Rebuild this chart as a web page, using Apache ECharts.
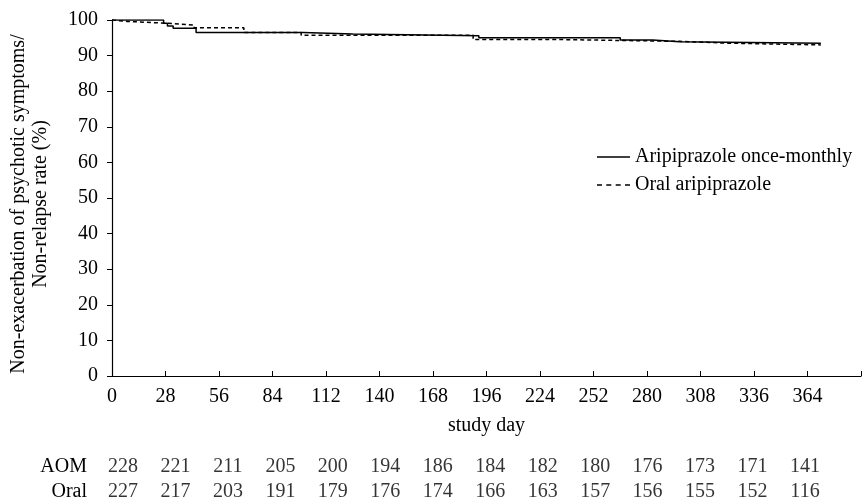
<!DOCTYPE html>
<html>
<head>
<meta charset="utf-8">
<script src="https://cdn.jsdelivr.net/npm/echarts@6/dist/echarts.min.js"></script>
<style>
html,body{margin:0;padding:0;background:#fff;}
#c{width:866px;height:504px;}
</style>
</head>
<body>
<div id="c"></div>
<script>
// Kaplan-Meier step points [study day, % non-relapse]
const aomCurve = [[0,100],[27,99.1],[29,98.3],[32,97.7],[44,96.5],[100,96.1],[126,95.6],[192,95.0],[266,94.4],[283,93.9],[297,93.5],[371,93.5]];
const oralCurve = [[0,100],[1,99.6],[8,99.1],[28,98.6],[43,97.8],[69,96.5],[99,95.7],[189,94.5],[236,94.0],[297,93.5],[322,93.0],[371,93.0]];
// Numbers at risk
const riskDays = [0,28,56,84,112,140,168,196,224,252,280,308,336,364];
const aomAtRisk = [228,221,211,205,200,194,186,184,182,180,176,173,171,141];
const oralAtRisk = [227,217,203,191,179,176,174,166,163,157,156,155,152,116];
const rowNames = ['Oral','AOM'];

const FONT = 'Liberation Serif';
const FS = 20;

const solidIcon = 'path://M0,0 L33,0 L33,1.5 L0,1.5 Z';
const dashIcon = 'path://M0,0 L5,0 L5,1.5 L0,1.5 Z M9.3,0 L14.3,0 L14.3,1.5 L9.3,1.5 Z M18.7,0 L23.7,0 L23.7,1.5 L18.7,1.5 Z M28,0 L33,0 L33,1.5 L28,1.5 Z';

const chart = echarts.init(document.getElementById('c'));
chart.setOption({
  animation: false,
  backgroundColor: '#fff',
  textStyle: {fontFamily: FONT, color: '#000'},
  grid: [
    {left: 111, right: 5, top: 20, bottom: 128},
    {left: 123, right: 61, top: 454, height: 50}
  ],
  legend: {
    orient: 'vertical', left: 592, top: 142, itemWidth: 33, itemHeight: 2, itemGap: 8,
    textStyle: {fontFamily: FONT, fontSize: FS, color: '#000'},
    data: [{name: 'Aripiprazole once-monthly', icon: solidIcon, itemStyle: {color: '#000'}},
           {name: 'Oral aripiprazole', icon: dashIcon, itemStyle: {color: '#000'}}]
  },
  xAxis: [
    {type: 'value', gridIndex: 0, min: 0, max: 392, interval: 28,
     name: 'study day', nameLocation: 'middle', nameGap: 40,
     nameTextStyle: {fontFamily: FONT, fontSize: FS, color: '#000'},
     axisLine: {lineStyle: {color: '#000', width: 1.2}},
     axisTick: {inside: true, length: 5, lineStyle: {color: '#000'}},
     axisLabel: {fontFamily: FONT, fontSize: FS, color: '#000', margin: 11,
       formatter: v => (v > 364 ? '' : String(v))},
     splitLine: {show: false}},
    {type: 'value', gridIndex: 1, min: 0, max: 364, show: false}
  ],
  yAxis: [
    {type: 'value', gridIndex: 0, min: 0, max: 100, interval: 10,
     name: 'Non-exacerbation of psychotic symptoms/\nNon-relapse rate (%)',
     nameLocation: 'middle', nameRotate: 90, nameGap: 60,
     nameTextStyle: {fontFamily: FONT, fontSize: FS, color: '#000', lineHeight: 22, padding: [0, 12, 0, 0]},
     axisLine: {show: true, lineStyle: {color: '#000', width: 1.2}},
     axisTick: {show: true, length: 5, lineStyle: {color: '#000'}},
     axisLabel: {fontFamily: FONT, fontSize: FS, color: '#000', margin: 14},
     splitLine: {show: false}},
    {type: 'category', gridIndex: 1, data: rowNames,
     axisLine: {show: false}, axisTick: {show: false}, splitLine: {show: false},
     axisLabel: {fontFamily: FONT, fontSize: FS, color: '#000', margin: 36, interval: 0}}
  ],
  series: [
    {name: 'Aripiprazole once-monthly', type: 'line', step: 'end', xAxisIndex: 0, yAxisIndex: 0,
     data: aomCurve, symbol: 'none', lineStyle: {color: '#000', width: 1.5}, itemStyle: {color: '#000'}},
    {name: 'Oral aripiprazole', type: 'line', step: 'end', xAxisIndex: 0, yAxisIndex: 0,
     data: oralCurve, symbol: 'none', lineStyle: {color: '#000', width: 1.5, type: [4, 3]}, itemStyle: {color: '#000'}},
    {type: 'scatter', xAxisIndex: 1, yAxisIndex: 1, symbolSize: 0, silent: true,
     data: riskDays.map(d => [d, 'AOM']),
     label: {show: true, position: 'inside', fontFamily: FONT, fontSize: FS, color: '#000',
       formatter: p => String(aomAtRisk[p.dataIndex])}},
    {type: 'scatter', xAxisIndex: 1, yAxisIndex: 1, symbolSize: 0, silent: true,
     data: riskDays.map(d => [d, 'Oral']),
     label: {show: true, position: 'inside', fontFamily: FONT, fontSize: FS, color: '#000',
       formatter: p => String(oralAtRisk[p.dataIndex])}}
  ]
});
</script>
</body>
</html>
